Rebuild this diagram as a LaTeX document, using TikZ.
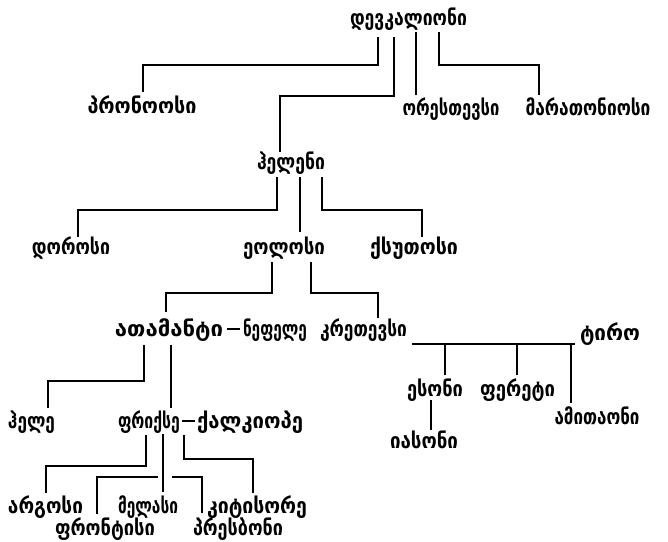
\documentclass[tikz,border=0pt]{standalone}
\usepackage{fontspec}
\newfontfamily\geofont{DejaVu Sans}[BoldFont={DejaVu Sans Bold}]
\usetikzlibrary{calc}
% a name set to a given printed width, letters stretched upright
\newcommand\gname[2]{\resizebox{#1pt}{1.3\height}{#2}}
\tikzset{
  person/.style={anchor=base, inner sep=0pt, font=\geofont\bfseries\fontsize{16.5}{19}\selectfont},
  link/.style={line width=2.4pt, line join=miter}
}
\begin{document}
\begin{tikzpicture}[x=1pt, y=-1pt]
\useasboundingbox (0,0) rectangle (668,541);
% persons, placed by their baselines
\node[person] (deu)   at (408.5,25) {\gname{117}{დევკალიონი}};
\node[person] (pron)  at (142,113)  {\gname{109}{პრონოოსი}};
\node[person] (ores)  at (451,115)  {\gname{97}{ორესთევსი}};
\node[person] (mara)  at (588,115)  {\gname{125}{მარათონიოსი}};
\node[person] (hell)  at (291,169)  {\gname{68}{ჰელენი}};
\node[person] (dor)   at (71,254)   {\gname{78}{დოროსი}};
\node[person] (eol)   at (284,254)  {\gname{82}{ეოლოსი}};
\node[person] (xut)   at (414,254)  {\gname{88}{ქსუთოსი}};
\node[person] (atha)  at (169,336)  {\gname{108}{ათამანტი}};
\node[person] (neph)  at (275,336)  {\gname{64}{ნეფელე}};
\node[person] (cret)  at (363.5,336){\gname{87}{კრეთევსი}};
\node[person] (tyro)  at (610,340)  {\gname{60}{ტირო}};
\node[person] (aes)   at (435,396)  {\gname{56}{ესონი}};
\node[person] (pher)  at (517.5,396){\gname{75}{ფერეტი}};
\node[person] (amy)   at (597,424)  {\gname{85}{ამითაონი}};
\node[person] (jas)   at (424,448)  {\gname{68}{იასონი}};
\node[person] (helle) at (31.5,428) {\gname{47}{ჰელე}};
\node[person] (phrix) at (149,428)  {\gname{62}{ფრიქსე}};
\node[person] (chal)  at (250,428)  {\gname{106}{ქალკიოპე}};
\node[person] (arg)   at (45.5,513) {\gname{75}{არგოსი}};
\node[person] (mel)   at (148,513)  {\gname{60}{მელასი}};
\node[person] (kit)   at (257,513)  {\gname{100}{კიტისორე}};
\node[person] (phron) at (105,535)  {\gname{100}{ფრონტისი}};
\node[person] (pres)  at (238,535)  {\gname{90}{პრესბონი}};

% Deucalion's children
\draw[link] ($(deu.base)+(-30.5,12)$) |- ($(pron.base)+(1,-48)$) -- ($(pron.base)+(1,-21)$);
\draw[link] ($(deu.base)+(-14.5,12)$) |- ($(hell.base)+(-11,-73)$) -- ($(hell.base)+(-11,-17)$);
\draw[link] ($(deu.base)+(7.5,7)$) -- ($(ores.base)+(-35,-20)$);
\draw[link] ($(deu.base)+(30.5,7)$) |- ($(mara.base)+(-49,-50)$) -- ($(mara.base)+(-49,-20)$);

% Hellen's children
\draw[link] ($(hell.base)+(-14,8)$) |- ($(dor.base)+(7,-44)$) -- ($(dor.base)+(7,-17)$);
\draw[link] ($(hell.base)+(9,8)$) -- ($(eol.base)+(16,-22)$);
\draw[link] ($(hell.base)+(31,8)$) |- ($(xut.base)+(8,-44)$) -- ($(xut.base)+(8,-17)$);

% Aeolus' children
\draw[link] ($(eol.base)+(-12,8)$) |- ($(atha.base)+(-3,-43)$) -- ($(atha.base)+(-3,-24)$);
\draw[link] ($(eol.base)+(27,8)$) |- ($(cret.base)+(14.5,-43)$) -- ($(cret.base)+(14.5,-18)$);

% Cretheus and Tyro
\draw[link] ($(cret.base)+(48.5,8)$) -- ($(tyro.base)+(-35,4)$);
\draw[link] ($(cret.base)+(81.5,8)$) -- ($(aes.base)+(10,-21)$);
\draw[link] ($(cret.base)+(153.5,8)$) -- ($(pher.base)+(-0.5,-21)$);
\draw[link] ($(cret.base)+(207.5,8)$) -- ($(amy.base)+(-26,-21)$);
\draw[link] ($(aes.base)+(-4,4)$) -- ($(jas.base)+(7,-18)$);

% Athamas and Nephele
\draw[link] ($(atha.base)+(58,-7)$) -- ($(neph.base)+(-35,-7)$);
\draw[link] ($(atha.base)+(-25,9)$) |- ($(helle.base)+(16.5,-47)$) -- ($(helle.base)+(16.5,-20)$);
\draw[link] ($(atha.base)+(2,9)$) -- ($(phrix.base)+(22,-20)$);

% Phrixus and Chalciope
\draw[link] ($(phrix.base)+(33,-7)$) -- ($(chal.base)+(-55,-7)$);
\draw[link] ($(phrix.base)+(-3,7)$) |- ($(arg.base)+(0.5,-47)$) -- ($(arg.base)+(0.5,-20)$);
\draw[link] ($(phrix.base)+(14,6)$) -- ($(mel.base)+(15,-21)$);
\draw[link] ($(phron.base)+(-8,-21)$) |- ($(mel.base)+(10,-36)$);
\draw[link] ($(mel.base)+(24,-36)$) -| ($(pres.base)+(-36,-22)$);
\draw[link] ($(phrix.base)+(35,7)$) |- ($(kit.base)+(-4,-54)$) -- ($(kit.base)+(-4,-20)$);
\end{tikzpicture}
\end{document}
